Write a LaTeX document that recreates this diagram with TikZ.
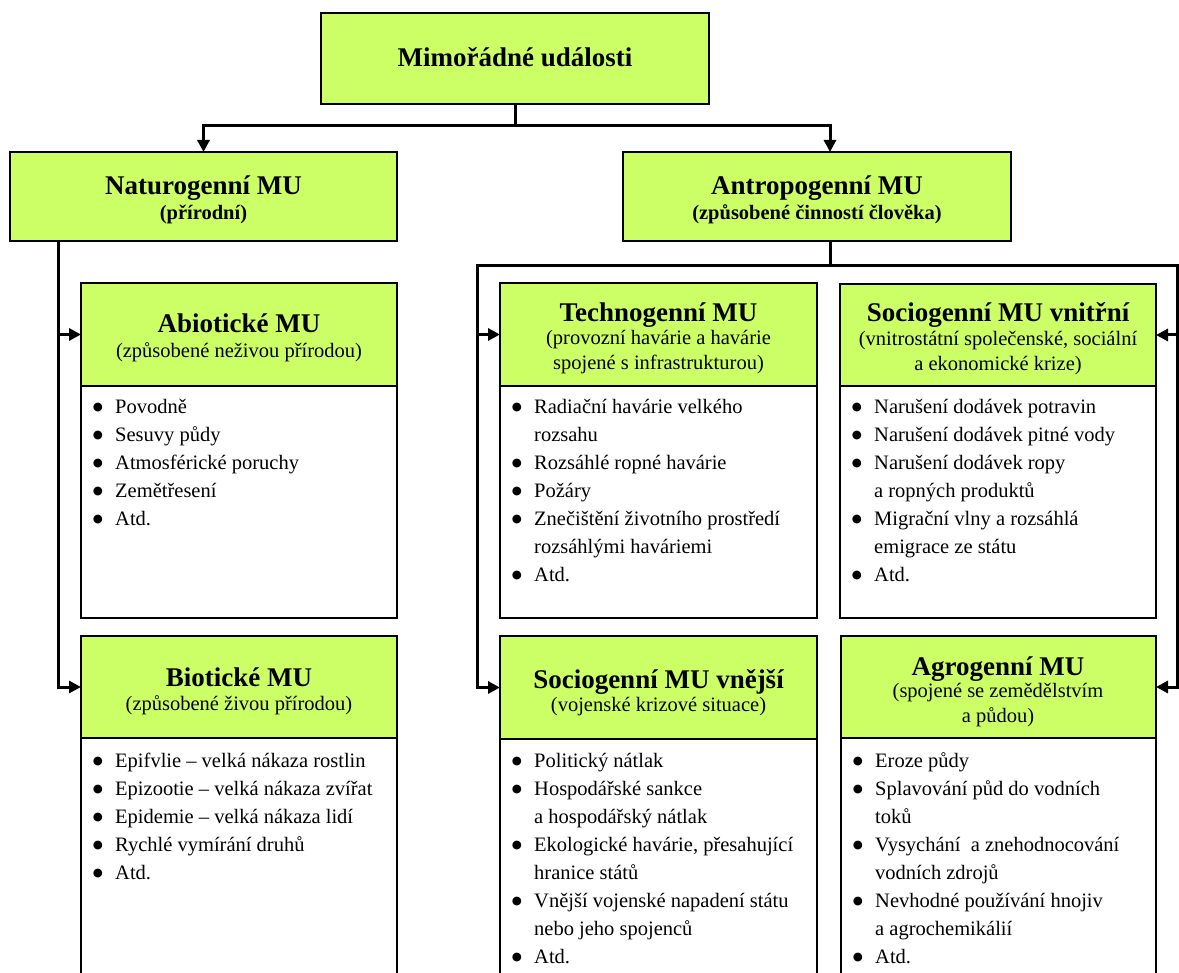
\documentclass[tikz,border=0pt]{standalone}
\usepackage{fontspec}
\setmainfont{Liberation Serif}
\newfontfamily\symfont{DejaVu Sans}
\usetikzlibrary{arrows.meta,calc}
\definecolor{hdrgreen}{HTML}{CCFF66}
\newcommand\bl{\makebox[22.6pt][l]{\hspace*{0.3pt}\raisebox{3pt}{\symfont\fontsize{11.5}{11.5}\selectfont ●}}}
\newcommand\cn{\hspace*{22.6pt}}
\tikzset{
  boxframe/.style={draw=black, line width=2pt, inner sep=0pt, outer sep=0pt, anchor=north west},
  hdr/.style={boxframe, fill=hdrgreen},
  bodybox/.style={boxframe, fill=white},
  ttl/.style={inner sep=0pt, anchor=base, font=\fontsize{27}{30}\selectfont\bfseries},
  sub/.style={inner sep=0pt, anchor=base, font=\fontsize{20.5}{25}\selectfont},
  subb/.style={sub, font=\fontsize{20.5}{25}\selectfont\bfseries},
  lst/.style={inner sep=0pt, anchor=base west, font=\fontsize{20.5}{27.9}\selectfont},
  conn/.style={line width=3pt},
  arrowtip/.tip={Triangle[length=12pt 0, width=12pt 0]},
}
\begin{document}
\begin{tikzpicture}[x=1pt,y=-1pt]
\useasboundingbox (0,0) rectangle (1179,973);
\clip (0,0) rectangle (1179,973);

% ---- top level ----
\node[hdr, minimum width=388pt, minimum height=91pt] (top) at (321,13) {};
\node[ttl] (topT) at (515,66.5) {Mimořádné události};

\node[hdr, minimum width=387pt, minimum height=89pt] (natur) at (10,152) {};
\node[ttl] (naturT) at (203.5,195) {Naturogenní MU};
\node[subb] (naturS) at (203.5,220) {(přírodní)};

\node[hdr, minimum width=388pt, minimum height=89pt] (antro) at (623,152) {};
\node[ttl] (antroT) at (817,195) {Antropogenní MU};
\node[subb] (antroS) at (817,220) {(způsobené činností člověka)};

% ---- row 1 ----
\node[hdr, minimum width=316pt, minimum height=103pt] (abioH) at (81,283) {};
\node[bodybox, minimum width=316pt, minimum height=232pt] (abioB) at (81,386) {};
\node[ttl] (abioT) at (239,333) {Abiotické MU};
\node[sub] (abioS) at (239,358) {(způsobené neživou přírodou)};
\node[lst] (abioL) at (92.4,413.7) {\begin{tabular}[t]{@{}l@{}}
\bl Povodně\\
\bl Sesuvy půdy\\
\bl Atmosférické poruchy\\
\bl Zemětřesení\\
\bl Atd.
\end{tabular}};

\node[hdr, minimum width=317pt, minimum height=103pt] (techH) at (500,283) {};
\node[bodybox, minimum width=317pt, minimum height=232pt] (techB) at (500,386) {};
\node[ttl] (techT) at (658.5,322) {Technogenní MU};
\node[sub] (techS) at (658.5,345) {\begin{tabular}[t]{@{}c@{}}(provozní havárie a havárie\\ spojené s infrastrukturou)\end{tabular}};
\node[lst] (techL) at (511.4,413.7) {\begin{tabular}[t]{@{}l@{}}
\bl Radiační havárie velkého\\
\cn rozsahu\\
\bl Rozsáhlé ropné havárie\\
\bl Požáry\\
\bl Znečištění životního prostředí\\
\cn rozsáhlými haváriemi\\
\bl Atd.
\end{tabular}};

\node[hdr, minimum width=316pt, minimum height=102pt] (svnH) at (840,284) {};
\node[bodybox, minimum width=316pt, minimum height=232pt] (svnB) at (840,386) {};
\node[ttl] (svnT) at (998,322) {Sociogenní MU vnitřní};
\node[sub] (svnS) at (998,345.5) {\begin{tabular}[t]{@{}c@{}}(vnitrostátní společenské, sociální\\ a ekonomické krize)\end{tabular}};
\node[lst] (svnL) at (851.4,413.7) {\begin{tabular}[t]{@{}l@{}}
\bl Narušení dodávek potravin\\
\bl Narušení dodávek pitné vody\\
\bl Narušení dodávek ropy\\
\cn a ropných produktů\\
\bl Migrační vlny a rozsáhlá\\
\cn emigrace ze státu\\
\bl Atd.
\end{tabular}};

% ---- row 2 ----
\node[hdr, minimum width=316pt, minimum height=102pt] (bioH) at (81,636) {};
\node[bodybox, minimum width=316pt, minimum height=280pt] (bioB) at (81,738) {};
\node[ttl] (bioT) at (239,686.5) {Biotické MU};
\node[sub] (bioS) at (239,710.5) {(způsobené živou přírodou)};
\node[lst] (bioL) at (92.4,767.7) {\begin{tabular}[t]{@{}l@{}}
\bl Epifvlie – velká nákaza rostlin\\
\bl Epizootie – velká nákaza zvířat\\
\bl Epidemie – velká nákaza lidí\\
\bl Rychlé vymírání druhů\\
\bl Atd.
\end{tabular}};

\node[hdr, minimum width=317pt, minimum height=103pt] (sexH) at (500,636) {};
\node[bodybox, minimum width=317pt, minimum height=280pt] (sexB) at (500,739) {};
\node[ttl] (sexT) at (658.5,688) {Sociogenní MU vnější};
\node[sub] (sexS) at (658.5,711.5) {(vojenské krizové situace)};
\node[lst] (sexL) at (511.4,767.7) {\begin{tabular}[t]{@{}l@{}}
\bl Politický nátlak\\
\bl Hospodářské sankce\\
\cn a hospodářský nátlak\\
\bl Ekologické havárie, přesahující\\
\cn hranice států\\
\bl Vnější vojenské napadení státu\\
\cn nebo jeho spojenců\\
\bl Atd.
\end{tabular}};

\node[hdr, minimum width=315pt, minimum height=102pt] (agroH) at (841,636) {};
\node[bodybox, minimum width=315pt, minimum height=280pt] (agroB) at (841,738) {};
\node[ttl] (agroT) at (998,675.5) {Agrogenní MU};
\node[sub] (agroS) at (998,697) {\begin{tabular}[t]{@{}c@{}}(spojené se zemědělstvím\\ a půdou)\end{tabular}};
\node[lst] (agroL) at (852.4,767.7) {\begin{tabular}[t]{@{}l@{}}
\bl Eroze půdy\\
\bl Splavování půd do vodních\\
\cn toků\\
\bl Vysychání\ \ a znehodnocování\\
\cn vodních zdrojů\\
\bl Nevhodné používání hnojiv\\
\cn a agrochemikálií\\
\bl Atd.
\end{tabular}};

% ---- connectors ----
\coordinate (jTop) at ($(top.south)+(0,22)$);
\coordinate (antroIn) at ($(antro.north)+(13,0)$);
\draw[conn] (top.south) -- (jTop);
\draw[conn, arrowtip-arrowtip] (natur.north) |- (jTop) -| (antroIn);

\coordinate (nOut) at ($(natur.south west)+(48,0)$);
\draw[conn, -arrowtip] (nOut) |- (bioH.west);
\draw[conn, -arrowtip] (abioH.west -| nOut) -- (abioH.west);

\coordinate (aOut) at ($(antro.south)+(13,0)$);
\coordinate (lRail) at (477.5,266);
\coordinate (rRail) at (1177.5,266);
\draw[conn] (aOut) -- (aOut |- lRail);
\draw[conn, arrowtip-arrowtip] (sexH.west) -| (lRail) -- (rRail) |- (agroH.east);
\draw[conn, -arrowtip] (techH.west -| lRail) -- (techH.west);
\draw[conn, -arrowtip] (svnH.east -| rRail) -- (svnH.east);
\end{tikzpicture}
\end{document}
